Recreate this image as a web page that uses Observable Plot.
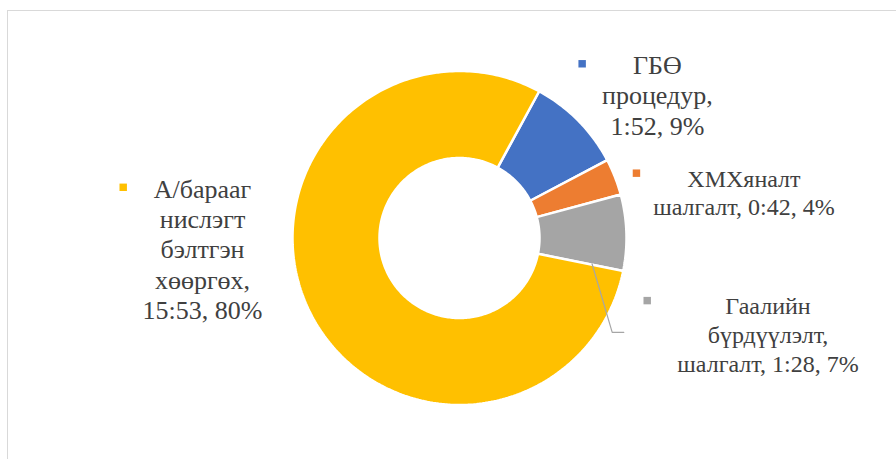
<!DOCTYPE html>
<html>
<head>
<meta charset="utf-8">
<script src="https://cdn.jsdelivr.net/npm/d3@7"></script>
<script src="https://cdn.jsdelivr.net/npm/@observablehq/plot@0.6"></script>
<style>
  body { margin: 0; background: #fff; }
  #wrap { position: relative; width: 896px; height: 459px; overflow: hidden; background: #fff; }
  #border { position: absolute; left: 7px; top: 10px; width: 1200px; height: 1200px;
            border-top: 1px solid #d9d9d9; border-left: 1.5px solid #d9d9d9; }
  #chart { position: absolute; left: 0; top: 0; }
</style>
</head>
<body>
<div id="wrap"><div id="border"></div><div id="chart"></div></div>
<script>
// ---- data ----
const categories = ["ГБӨ процедур", "ХМХяналт шалгалт", "Гаалийн бүрдүүлэлт, шалгалт", "А/барааг нислэгт бэлтгэн хөөргөх"];
const durations = ["1:52", "0:42", "1:28", "15:53"];
const minutes = [112, 42, 88, 953];
const percents = ["9%", "4%", "7%", "80%"];
const colors = ["#4472C4", "#ED7D31", "#A5A5A5", "#FFC000"];

// ---- layout / style ----
const W = 896, H = 459;
const cx = 459, cy = 237.5, R = 167, R0 = 80;
const startDeg = 28.5;
// word indices after which a label line wraps
const wraps = [[1, 2], [1], [1, 2], [1, 2, 3, 4]];
// text offset (center x, last baseline) from slice outer mid-point
const textOffsets = [[79, 14], [129, 38.5], [141.6, 139], [-105.7, 10.2]];
const fontSizes = [26, 24, 24, 26];
const lineHeights = [30.5 / 26, 28.3 / 24, 28.8 / 24, 30.25 / 26];
const markerOffsets = [[3.8, -56.9], [21.5, -3.8], [20.8, 68], [-185, -121.4]];

const total = d3.sum(minutes);
function pt(deg, rad) {
  const t = deg * Math.PI / 180;
  return [cx + rad * Math.sin(t), cy - rad * Math.cos(t)];
}

let acc = 0;
const slices = minutes.map((m, i) => {
  const a0 = startDeg + acc / total * 360;
  acc += m;
  const a1 = startDeg + acc / total * 360;
  const steps = Math.max(8, Math.ceil((a1 - a0) / 1));
  const poly = [];
  for (let k = 0; k <= steps; ++k) poly.push(pt(a0 + (a1 - a0) * k / steps, R));
  for (let k = steps; k >= 0; --k) poly.push(pt(a0 + (a1 - a0) * k / steps, R0));
  const mid = pt((a0 + a1) / 2, R);
  const words = `${categories[i]}, ${durations[i]}, ${percents[i]}`.split(" ");
  const lines = [];
  let cur = [];
  words.forEach((w, j) => {
    cur.push(w);
    if (wraps[i].includes(j + 1)) { lines.push(cur.join(" ")); cur = []; }
  });
  if (cur.length) lines.push(cur.join(" "));
  return { i, a0, a1, poly, mid, text: lines.join("\n"), color: colors[i] };
});

// leader line for the gray label (from slice to label)
const gray = slices[2];
const leader = [pt(gray.a1 - 0.4, 135), [gray.mid[0] - 14.2, gray.mid[1] + 99.7], [gray.mid[0] - 2.6, gray.mid[1] + 99.7]];

const FONT = "Liberation Serif";
const marks = [];
slices.forEach(s => {
  marks.push(Plot.line(s.poly, {
    x: d => d[0], y: d => d[1], curve: "linear-closed",
    fill: s.color, stroke: "white", strokeWidth: 2.5, strokeLinejoin: "miter"
  }));
});
marks.push(Plot.line(leader, { x: d => d[0], y: d => d[1], stroke: "#A6A6A6", strokeWidth: 1.2 }));
slices.forEach(s => {
  marks.push(Plot.text([s], {
    x: d => d.mid[0], y: d => d.mid[1], text: "text",
    dx: textOffsets[s.i][0], dy: textOffsets[s.i][1],
    lineAnchor: "bottom", lineHeight: lineHeights[s.i], textAnchor: "middle",
    fontSize: fontSizes[s.i], fontFamily: FONT,
    fill: "#404040"
  }));
  marks.push(Plot.dot([s], {
    x: d => d.mid[0], y: d => d.mid[1],
    dx: markerOffsets[s.i][0], dy: markerOffsets[s.i][1],
    symbol: "square", r: 4.2, fill: s.color, stroke: "none"
  }));
});

const chart = Plot.plot({
  width: W, height: H,
  margin: 0,
  x: { type: "identity", axis: null },
  y: { type: "identity", axis: null },
  style: { background: "transparent", overflow: "visible", fontFamily: FONT },
  marks
});
document.getElementById("chart").appendChild(chart);
</script>
</body>
</html>
